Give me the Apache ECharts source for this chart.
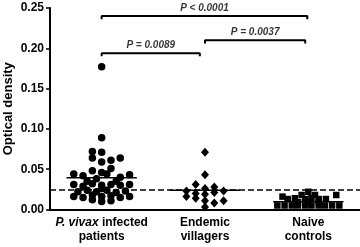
<!DOCTYPE html>
<html>
<head>
<meta charset="utf-8">
<script src="https://cdn.jsdelivr.net/npm/echarts@6/dist/echarts.min.js"></script>
<style>
  html, body { margin: 0; padding: 0; background: #fff; }
  #chart { width: 360px; height: 247px; }
</style>
</head>
<body>
<div id="chart"></div>
<script>
// group names (P. vivax is italic in the label)
const categories = ["P. vivax infected\npatients", "Endemic\nvillagers", "Naive\ncontrols"];
const yTicks = [0, 0.05, 0.10, 0.15, 0.20, 0.25];

// [offset from group centre, optical density]
const vivax = [
  [0, 0.177], [0, 0.089],
  [-0.09, 0.072], [0, 0.071],
  [-0.09, 0.064], [0, 0.059], [0.09, 0.061], [0.18, 0.064],
  [-0.27, 0.044], [-0.18, 0.042], [-0.09, 0.048], [0, 0.046], [0.09, 0.051], [0.05, 0.044],
  [-0.14, 0.035], [-0.05, 0.038], [0.14, 0.035], [0.18, 0.040], [0.27, 0.043],
  [-0.27, 0.031], [-0.18, 0.029], [-0.09, 0.032], [0, 0.030], [0.09, 0.031], [0.18, 0.030], [0.27, 0.031],
  [-0.23, 0.022], [-0.14, 0.024], [-0.05, 0.022], [0, 0.026], [0.05, 0.024], [0.14, 0.021], [0.23, 0.023],
  [-0.27, 0.016], [-0.18, 0.015], [-0.09, 0.018], [0, 0.016], [0.09, 0.017], [0.18, 0.015], [0.27, 0.016],
  [-0.09, 0.012], [0, 0.010], [0.09, 0.011]
];
const endemic = [
  [0, 0.071], [0, 0.043],
  [-0.09, 0.031], [0.09, 0.028], [0, 0.026],
  [-0.18, 0.023], [0.18, 0.023], [0.09, 0.021], [0, 0.019], [-0.09, 0.020],
  [-0.18, 0.016], [-0.09, 0.014], [0, 0.011], [0.09, 0.008], [0.18, 0.011], [0, 0.003]
];
const naive = [
  [0, 0.022],
  [-0.065, 0.018], [0.065, 0.018], [-0.25, 0.016], [0.27, 0.018],
  [-0.2, 0.013], [-0.13, 0.014], [-0.03, 0.013], [0.03, 0.014], [0.1, 0.013], [0.17, 0.013],
  [-0.1, 0.009], [0, 0.009], [0.1, 0.009],
  [-0.3, 0.005], [-0.23, 0.005], [-0.16, 0.005], [-0.1, 0.005], [-0.03, 0.005],
  [0.03, 0.005], [0.1, 0.005], [0.16, 0.005], [0.23, 0.005], [0.3, 0.005]
];

const medians = [0.0395, 0.024, 0.0097];
const cutoff = 0.024;

// comparison brackets: [from group, to group, height, text]
const brackets = [
  [1, 1.95, 0.194, "P = 0.0089"],
  [2, 2.97, 0.210, "P = 0.0037"],
  [1, 2.99, 0.240, "P < 0.0001"]
];

const black = "#000";
const font = "Liberation Sans, Arial, sans-serif";

function place(points, group) {
  return points.map(p => [group + p[0], p[1]]);
}

const medianLines = [];
medians.forEach((m, i) => {
  medianLines.push([i + 1 - 0.34, m], [i + 1 + 0.34, m], "-");
});

const bracketSeries = brackets.map(b => ({
  type: "line",
  xAxisIndex: 1,
  data: [[b[0], b[2] - 0.004], [b[0], b[2]], [b[1], b[2]], [b[1], b[2] - 0.004]],
  symbol: "none",
  lineStyle: { color: black, width: 2 },
  silent: true,
  z: 3
}));

const bracketLabels = {
  type: "scatter",
  xAxisIndex: 1,
  symbolSize: 0,
  data: brackets.map(b => ({ value: [(b[0] + b[1]) / 2, b[2], b[3]] })),
  label: {
    show: true,
    position: "top",
    distance: 3,
    formatter: p => p.value[2],
    color: black,
    fontFamily: font,
    fontWeight: "bold",
    fontStyle: "italic",
    fontSize: 10
  },
  silent: true
};

const dot = { color: black, opacity: 1 };

const chart = echarts.init(document.getElementById("chart"));
chart.setOption({
  animation: false,
  grid: { left: 50, right: 0, top: 8, bottom: 37.5, outerBoundsMode: "none" },
  xAxis: [{
    type: "category",
    data: categories,
    axisLine: { lineStyle: { color: black, width: 2 } },
    axisTick: { alignWithLabel: true, length: 4, lineStyle: { color: black, width: 1.5 } },
    axisLabel: {
      interval: 0,
      margin: 6,
      color: black,
      fontFamily: font,
      fontWeight: "bold",
      fontSize: 12,
      lineHeight: 14,
      formatter: v => v.startsWith("P. vivax") ? v.replace("P. vivax", "{i|P. vivax}") : v,
      rich: {
        i: { fontStyle: "italic", fontWeight: "bold", fontFamily: font, fontSize: 12, color: black }
      }
    }
  }, {
    type: "value",
    min: 0.5,
    max: 3.5,
    show: false
  }],
  yAxis: {
    type: "value",
    min: 0,
    max: 0.25,
    interval: 0.05,
    name: "Optical density",
    nameLocation: "middle",
    nameGap: 35,
    nameMoveOverlap: false,
    nameTextStyle: { color: black, fontFamily: font, fontWeight: "bold", fontSize: 13 },
    axisLine: { show: true, lineStyle: { color: black, width: 2 } },
    axisTick: { show: true, length: 4, lineStyle: { color: black, width: 1.5 } },
    splitLine: { show: false },
    axisLabel: {
      margin: 6,
      color: black,
      fontFamily: font,
      fontWeight: "bold",
      fontSize: 12,
      formatter: v => v.toFixed(2),
      customValues: yTicks
    }
  },
  series: [
    {
      type: "scatter", xAxisIndex: 1, symbol: "circle", symbolSize: 7.5,
      itemStyle: dot, data: place(vivax, 1)
    },
    {
      type: "scatter", xAxisIndex: 1, symbol: "diamond", symbolSize: [8, 9],
      itemStyle: dot, data: place(endemic, 2)
    },
    {
      type: "scatter", xAxisIndex: 1, symbol: "rect", symbolSize: 6.5,
      itemStyle: dot, data: place(naive, 3)
    },
    {
      type: "line", xAxisIndex: 1, data: medianLines, symbol: "none",
      lineStyle: { color: black, width: 1.5 }, silent: true, z: 1,
      markLine: {
        silent: true,
        symbol: "none",
        precision: 4,
        label: { show: false },
        lineStyle: { color: black, width: 1.5, type: [6, 3] },
        data: [{ yAxis: cutoff }]
      }
    },
    ...bracketSeries,
    bracketLabels
  ]
});
</script>
</body>
</html>
